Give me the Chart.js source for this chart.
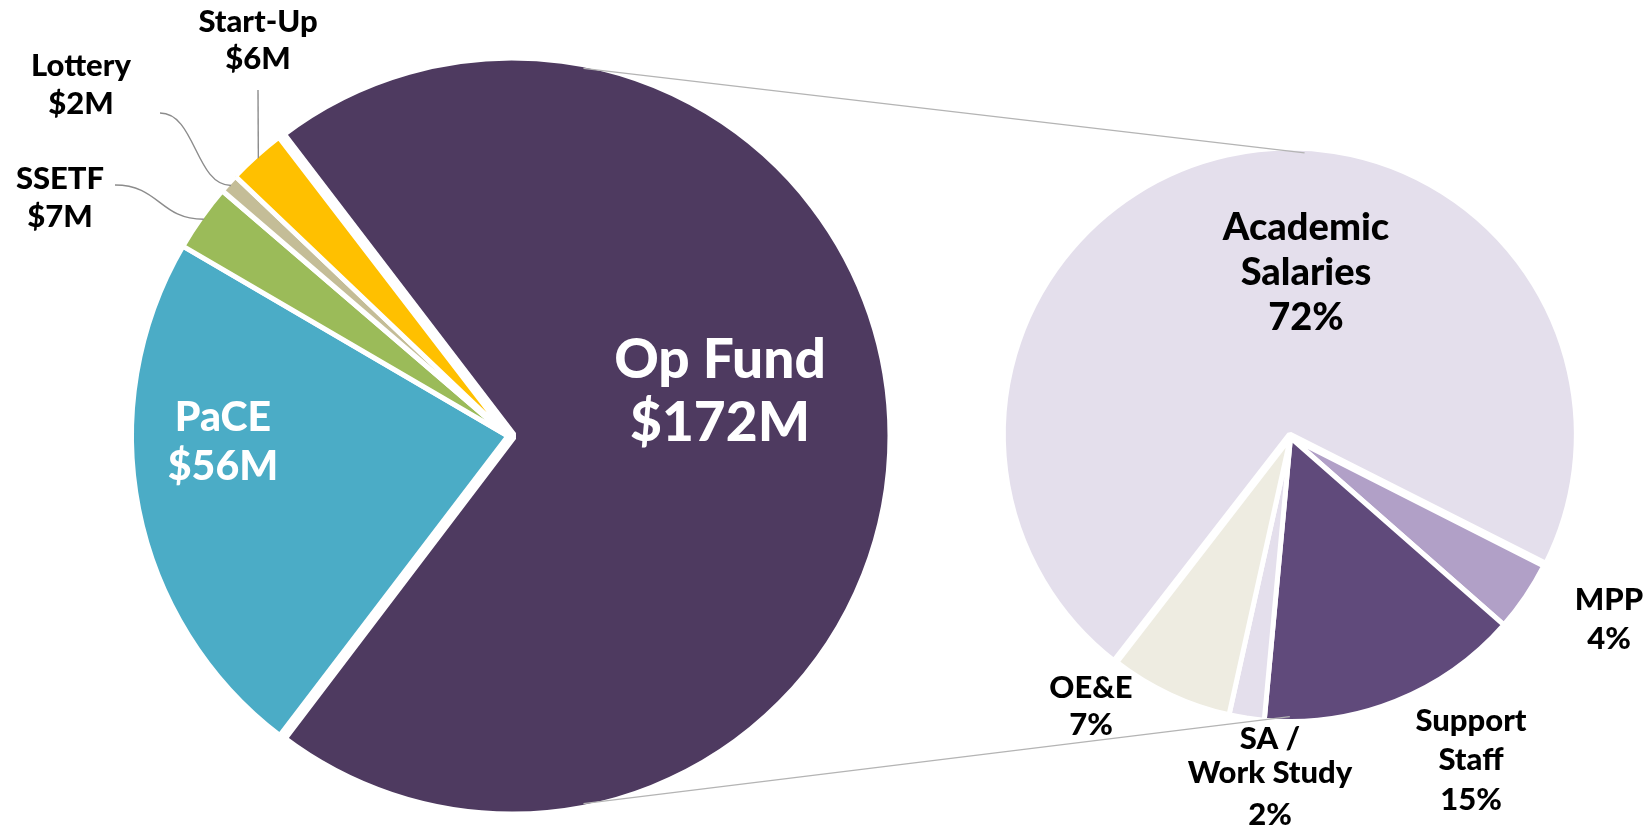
<!DOCTYPE html>
<html>
<head>
<meta charset="utf-8">
<script src="https://cdn.jsdelivr.net/npm/chart.js@4.4.1/dist/chart.umd.min.js"></script>
<style>
  html, body { margin: 0; padding: 0; background: #fff; }
  #wrap { position: relative; width: 1651px; height: 828px; overflow: hidden; }
  #wrap canvas { position: absolute; left: 0; top: 0; }
</style>
</head>
<body>
<div id="wrap">
  <canvas id="fundChart" width="1651" height="828"></canvas>
  <canvas id="opChart" width="1651" height="828"></canvas>
</div>
<script>
// funding sources ($M)
const fundLabels = ['Op Fund', 'PaCE', 'SSETF', 'Lottery', 'Start-Up'];
const fundValues = [172, 56, 7, 2, 6];
const fundColors = ['#4e3a60', '#4bacc6', '#9bbb59', '#c4bd97', '#ffc000'];

// Op Fund breakdown (%)
const opLabels = [['Academic', 'Salaries'], 'MPP', ['Support', 'Staff'], ['SA /', 'Work Study'], 'OE&E'];
const opValues = [72, 4, 15, 2, 7];
const opColors = ['#e4dfec', '#b1a0c7', '#604a7b', '#e4dfec', '#eeece1'];

const FONT = 'Lato, "Open Sans", sans-serif';
const DEG = Math.PI / 180;

function linesFor(chart, i, fmt) {
  const lab = chart.data.labels[i];
  const lines = Array.isArray(lab) ? lab.slice() : [lab];
  lines.push(fmt(chart.data.datasets[0].data[i]));
  return lines;
}

// text labels + leader lines for each slice
const pieText = {
  id: 'pieText',
  afterDatasetsDraw(chart, args, opts) {
    const ctx = chart.ctx;
    const arcs = chart.getDatasetMeta(0).data;
    ctx.save();
    ctx.strokeStyle = '#8c8c8c';
    ctx.lineWidth = 1.4;
    (opts.leaders || []).forEach(l => {
      const p = arcs[l.index].getProps(['x', 'y', 'startAngle', 'endAngle', 'outerRadius'], true);
      const mid = (p.startAngle + p.endAngle) / 2;
      const r = p.outerRadius - 3;
      const ex = p.x + Math.cos(mid) * r;
      const ey = p.y + Math.sin(mid) * r;
      ctx.beginPath();
      ctx.moveTo(l.x, l.y);
      if (l.curve) {
        const k = (ex - l.x) * 0.5;
        ctx.bezierCurveTo(l.x + k, l.y, ex - k, ey, ex, ey);
      } else {
        ctx.lineTo(ex, ey);
      }
      ctx.stroke();
    });
    ctx.textAlign = 'center';
    ctx.textBaseline = 'alphabetic';
    (opts.items || []).forEach(it => {
      const lines = linesFor(chart, it.index, opts.format);
      ctx.font = '900 ' + it.size + 'px ' + FONT;
      ctx.fillStyle = it.color || '#000';
      lines.forEach((t, j) => {
        ctx.fillText(t, it.x, it.ys[j] + it.size * 0.36);
      });
    });
    ctx.restore();
  }
};

// grey lines joining the Op Fund slice to the breakdown pie
const linkLines = {
  id: 'linkLines',
  afterDraw(chart, args, opts) {
    const src = opts.source;
    if (!src) return;
    const a = src.getDatasetMeta(0).data[0].getProps(['x', 'y', 'startAngle', 'endAngle', 'outerRadius'], true);
    const b = chart.getDatasetMeta(0).data[0].getProps(['x', 'y', 'startAngle', 'endAngle', 'outerRadius'], true);
    const pt = (p, shift, ang) => {
      const mid = (p.startAngle + p.endAngle) / 2;
      const cx = p.x + Math.cos(mid) * shift;
      const cy = p.y + Math.sin(mid) * shift;
      const r = p.outerRadius - 2;
      return [cx + Math.sin(ang * DEG) * r, cy - Math.cos(ang * DEG) * r];
    };
    const ctx = chart.ctx;
    ctx.save();
    ctx.strokeStyle = '#b4b4b4';
    ctx.lineWidth = 1.3;
    opts.pairs.forEach(pr => {
      const p1 = pt(a, 4, pr[0]);
      const p2 = pt(b, 3, pr[1]);
      ctx.beginPath();
      ctx.moveTo(p1[0], p1[1]);
      ctx.lineTo(p2[0], p2[1]);
      ctx.stroke();
    });
    ctx.restore();
  }
};

const fundChart = new Chart(document.getElementById('fundChart'), {
  type: 'pie',
  data: {
    labels: fundLabels,
    datasets: [{
      data: fundValues,
      backgroundColor: fundColors,
      borderColor: '#ffffff',
      borderWidth: [10, 5, 5, 5, 5],
      offset: [16, 0, 0, 0, 0]
    }]
  },
  options: {
    responsive: false,
    animation: false,
    rotation: -37.5,
    radius: 376.5,
    layout: { padding: { left: 0, right: 635, top: 44, bottom: 0 } },
    plugins: {
      legend: { display: false },
      tooltip: { enabled: false },
      pieText: {
        format: v => '$' + v + 'M',
        items: [
          { index: 0, x: 720, ys: [358, 421], size: 55, color: '#ffffff' },
          { index: 1, x: 223, ys: [416, 465], size: 41, color: '#ffffff' },
          { index: 2, x: 60, ys: [178, 216], size: 31 },
          { index: 3, x: 81, ys: [65, 103], size: 31 },
          { index: 4, x: 258, ys: [21, 58], size: 31 }
        ],
        leaders: [
          { index: 2, x: 115, y: 185, curve: true },
          { index: 3, x: 160, y: 113, curve: true },
          { index: 4, x: 258, y: 90, curve: false }
        ]
      }
    }
  },
  plugins: [pieText]
});

const opChart = new Chart(document.getElementById('opChart'), {
  type: 'pie',
  data: {
    labels: opLabels,
    datasets: [{
      data: opValues,
      backgroundColor: opColors,
      borderColor: '#ffffff',
      borderWidth: [6, 5, 5, 5, 5],
      offset: [12, 0, 0, 0, 0]
    }]
  },
  options: {
    responsive: false,
    animation: false,
    rotation: 217.7,
    radius: 284,
    layout: { padding: { left: 941, right: 11, top: 47, bottom: 0 } },
    plugins: {
      legend: { display: false },
      tooltip: { enabled: false },
      pieText: {
        format: v => v + '%',
        items: [
          { index: 0, x: 1306, ys: [226, 271, 316], size: 38 },
          { index: 1, x: 1609, ys: [599, 638], size: 31 },
          { index: 2, x: 1471, ys: [720, 759, 799], size: 31 },
          { index: 3, x: 1270, ys: [738, 772, 814], size: 31 },
          { index: 4, x: 1091, ys: [687, 724], size: 31 }
        ]
      },
      linkLines: { source: fundChart, pairs: [[11, 3], [169, 180]] }
    }
  },
  plugins: [pieText, linkLines]
});
</script>
</body>
</html>
